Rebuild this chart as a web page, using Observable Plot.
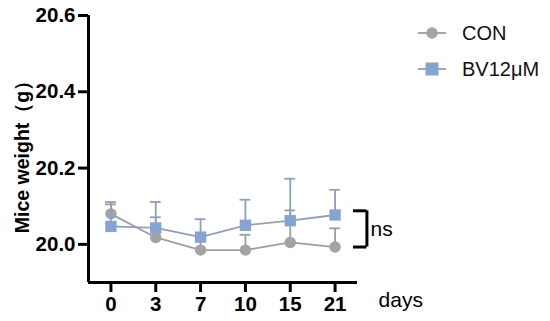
<!DOCTYPE html>
<html>
<head>
<meta charset="utf-8">
<script src="https://cdn.jsdelivr.net/npm/d3@7"></script>
<script src="https://cdn.jsdelivr.net/npm/@observablehq/plot@0.6"></script>
<style>
  html, body { margin: 0; padding: 0; background: #fff; }
  #wrap { position: relative; width: 550px; height: 321px; font-family: "Liberation Sans", Arial, sans-serif; }
  #wrap svg { font-family: "Liberation Sans", Arial, sans-serif; }
  [aria-label="y-axis tick label"] text, [aria-label="x-axis tick label"] text { font-weight: bold; font-size: 20.5px; }
  #legend { position: absolute; left: 410px; top: 14px; }
</style>
</head>
<body>
<div id="wrap"></div>
<script>
const days = ["0", "3", "7", "10", "15", "21"];
const conMean  = [20.080, 20.018, 19.985, 19.985, 20.005, 19.993];
const conUpper = [20.105, 20.071, 20.020, 20.025, 20.089, 20.042];
const bvMean   = [20.047, 20.043, 20.019, 20.050, 20.062, 20.077];
const bvUpper  = [20.111, 20.111, 20.066, 20.117, 20.172, 20.143];
const seriesNames = ["CON", "BV12μM"];
const yTicks = [20.0, 20.2, 20.4, 20.6];
const yTitle = "Mice weight（g）";

const conColor = "#a3a3a3", conLine = "#9e9e9e";
const bvColor = "#86a4d2", bvLine = "#8ea0bf";

const con = days.map((d, i) => ({i, day: d, mean: conMean[i], upper: conUpper[i]}));
const bv = days.map((d, i) => ({i, day: d, mean: bvMean[i], upper: bvUpper[i]}));

const capHalf = 0.12;
function errMarks(data, color) {
  return [
    Plot.ruleX(data, {x: "i", y1: "mean", y2: "upper", stroke: color, strokeWidth: 1.8}),
    Plot.ruleY(data, {y: "upper", x1: d => d.i - capHalf, x2: d => d.i + capHalf, stroke: color, strokeWidth: 1.8})
  ];
}

const last = days.length - 1;
const bracketTop = bvUpper[last] - 0.055;
const bracketBottom = conMean[last];

const chart = Plot.plot({
  width: 550,
  height: 321,
  marginLeft: 88,
  marginRight: 193,
  marginTop: 15,
  marginBottom: 39,
  style: {fontSize: "20px", color: "#000", background: "transparent"},
  x: {domain: [-0.5, days.length - 0.5]},
  y: {domain: [19.9, 20.6]},
  marks: [
    Plot.axisY({ticks: yTicks, tickFormat: d3.format(".1f"), tickSize: 10, tickPadding: 3, strokeWidth: 3, label: null}),
    Plot.axisX({ticks: d3.range(days.length), tickFormat: i => days[i], tickSize: 10, tickPadding: 4, strokeWidth: 3,
      label: null}),
    Plot.text([yTitle], {frameAnchor: "left", textAnchor: "middle", rotate: -90, dx: -66, dy: 3,
      fontWeight: "bold", fontSize: 19.5, fill: "#000"}),
    Plot.ruleX([-0.5], {y1: 19.9, y2: 20.6, strokeWidth: 3, stroke: "#000"}),
    Plot.ruleY([19.9], {x1: -0.5, x2: days.length - 0.5, strokeWidth: 3, stroke: "#000"}),
    ...errMarks(con, conLine),
    Plot.line(con, {x: "i", y: "mean", stroke: conLine, strokeWidth: 1.8}),
    Plot.dot(con, {x: "i", y: "mean", r: 5.7, fill: conColor, symbol: "circle"}),
    ...errMarks(bv, bvLine),
    Plot.line(bv, {x: "i", y: "mean", stroke: bvLine, strokeWidth: 1.8}),
    Plot.dot(bv, {x: "i", y: "mean", r: 6.4, fill: bvColor, symbol: "square"}),
    // significance bracket
    Plot.ruleX([last + 0.71], {y1: bracketBottom, y2: bracketTop, stroke: "#000", strokeWidth: 3}),
    Plot.ruleY([bracketTop, bracketBottom], {x1: last + 0.41, x2: last + 0.71, stroke: "#000", strokeWidth: 3}),
    Plot.text(["ns"], {x: last + 0.79, y: (bracketTop + bracketBottom) / 2, textAnchor: "start", fontSize: 21}),
    Plot.text(["days"], {x: last + 0.97, frameAnchor: "bottom", dy: 24, textAnchor: "start", fontSize: 21})
  ]
});

const wrap = document.getElementById("wrap");
wrap.appendChild(chart);

// legend
const legend = document.createElement("div");
legend.id = "legend";
legend.innerHTML = `
<svg width="140" height="70" style="font-family:'Liberation Sans', Arial, sans-serif">
  <line x1="8" x2="36" y1="19" y2="19" stroke="${conLine}" stroke-width="1.8"/>
  <circle cx="22" cy="19" r="5.7" fill="${conColor}"/>
  <text x="52" y="26" font-size="20" fill="#111">${seriesNames[0]}</text>
  <line x1="8" x2="36" y1="55" y2="55" stroke="${bvLine}" stroke-width="1.8"/>
  <rect x="15.5" y="48.5" width="13" height="13" fill="${bvColor}"/>
  <text x="52" y="62" font-size="20" fill="#111">${seriesNames[1]}</text>
</svg>`;
wrap.appendChild(legend);
</script>
</body>
</html>
